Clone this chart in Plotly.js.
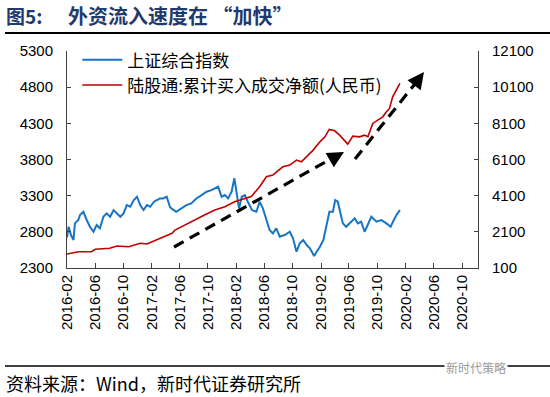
<!DOCTYPE html>
<html>
<head>
<meta charset="utf-8">
<script src="https://cdn.plot.ly/plotly-3.0.1.min.js"></script>
<style>
html,body{margin:0;padding:0;background:#fff;}
#chart{width:550px;height:397px;}
</style>
</head>
<body>
<div id="chart"></div>
<script>
// ---- Data ----
const sseDates = ['2016-02-01','2016-02-08','2016-02-18','2016-02-29','2016-03-06','2016-03-21','2016-03-28','2016-04-12','2016-04-26','2016-05-10','2016-05-25','2016-06-08','2016-06-22','2016-07-07','2016-07-21','2016-08-05','2016-08-20','2016-09-04','2016-09-18','2016-10-02','2016-10-16','2016-10-31','2016-11-15','2016-11-29','2016-12-13','2016-12-27','2017-01-11','2017-01-25','2017-02-10','2017-02-23','2017-03-08','2017-03-22','2017-04-06','2017-04-20','2017-04-26','2017-05-17','2017-06-08','2017-06-30','2017-07-21','2017-08-12','2017-09-04','2017-09-25','2017-10-16','2017-10-31','2017-11-14','2017-11-29','2017-12-13','2017-12-27','2018-01-11','2018-01-23','2018-02-02','2018-02-12','2018-02-24','2018-03-09','2018-03-22','2018-04-09','2018-04-28','2018-05-12','2018-05-26','2018-06-10','2018-06-24','2018-07-08','2018-07-23','2018-08-07','2018-08-28','2018-09-19','2018-10-03','2018-10-18','2018-11-01','2018-11-16','2018-12-01','2018-12-15','2019-01-02','2019-01-13','2019-01-27','2019-02-11','2019-02-25','2019-03-09','2019-03-24','2019-04-03','2019-04-14','2019-04-25','2019-05-06','2019-05-20','2019-06-04','2019-06-26','2019-07-10','2019-07-24','2019-08-08','2019-08-22','2019-09-06','2019-09-28','2019-10-19','2019-11-10','2019-11-28','2019-12-12','2019-12-23','2020-01-07'];
const sseValues = [2720,2870,2756,2687,2917,2963,3032,3077,2963,2870,2801,2894,2848,3008,3055,3008,3101,3055,3008,3055,3170,3147,3239,3285,3170,3101,3170,3147,3216,3239,3262,3262,3285,3147,3124,3077,3124,3170,3193,3262,3308,3354,3377,3400,3423,3285,3308,3262,3354,3540,3331,3124,3285,3308,3216,3101,3077,3216,3124,2963,2825,2779,2848,2732,2756,2801,2710,2525,2641,2687,2618,2572,2466,2525,2594,2687,2917,3077,3077,3239,3216,3055,2917,2870,2917,2986,2917,2940,2801,2894,3008,2940,2963,2917,2870,2963,3032,3101];

const hsgtDates = ['2016-02-01','2016-03-21','2016-05-17','2016-06-02','2016-08-03','2016-09-04','2016-10-24','2016-11-15','2016-12-13','2017-01-11','2017-02-03','2017-03-03','2017-03-31','2017-04-29','2017-05-12','2017-06-22','2017-08-04','2017-09-16','2017-10-31','2017-12-13','2018-01-24','2018-03-09','2018-04-06','2018-05-12','2018-06-10','2018-07-08','2018-08-20','2018-09-19','2018-10-18','2018-11-08','2018-12-01','2018-12-29','2019-01-27','2019-02-18','2019-03-08','2019-04-01','2019-04-22','2019-05-13','2019-05-27','2019-06-18','2019-07-17','2019-08-08','2019-08-22','2019-09-12','2019-10-03','2019-10-25','2019-11-10','2019-11-23','2019-12-07','2019-12-23','2020-01-07'];
const hsgtValues = [873,1000,1000,1133,1188,1315,1277,1371,1465,1426,1553,1741,1880,2017,2200,2476,2752,3028,3305,3487,3763,3951,4050,4594,5146,5238,5697,5791,6067,5973,6249,6620,7078,7354,7763,7686,7448,7172,6951,7393,7354,7448,7354,8095,8277,8459,8736,8923,9564,9934,10304];

const tickDates = ['2016-02-01','2016-06-01','2016-10-01','2017-02-01','2017-06-01','2017-10-01','2018-02-01','2018-06-01','2018-10-01','2019-02-01','2019-06-01','2019-10-01','2020-02-01','2020-06-01','2020-10-01'];
const tickLabels = ['2016-02','2016-06','2016-10','2017-02','2017-06','2017-10','2018-02','2018-06','2018-10','2019-02','2019-06','2019-10','2020-02','2020-06','2020-10'];

const seriesNames = ['上证综合指数','陆股通:累计买入成交净额(人民币)'];
const titleLead = '图5:';
const titleText = '外资流入速度在 “加快”';
const sourceText = '资料来源：Wind，新时代证券研究所';
const watermarkText = '新时代策略';

// ---- Chart ----
const tickFont = {family:'Arial, "Liberation Sans", sans-serif', size:15, color:'#000'};
const cjk = '"Noto Sans CJK SC", "Noto Sans", sans-serif';
const axisColor = '#404040';

const traces = [
  {x:sseDates, y:sseValues, name:seriesNames[0], type:'scatter', mode:'lines',
   line:{color:'#1874C4', width:2}, yaxis:'y'},
  {x:hsgtDates, y:hsgtValues, name:seriesNames[1], type:'scatter', mode:'lines',
   line:{color:'#C00000', width:1.6}, yaxis:'y2'}
];

const px = (v)=> (v-67)/411;       // pixel x -> paper
const py = (v)=> (268-v)/217;      // pixel y -> paper

const layout = {
  width:550, height:397,
  margin:{l:67, r:72, t:51, b:129},
  paper_bgcolor:'#fff', plot_bgcolor:'#fff',
  showlegend:true,
  legend:{x:0.025, y:1.04, xanchor:'left', yanchor:'top', bgcolor:'rgba(0,0,0,0)',
          font:{family:cjk, size:17, color:'#000'}, tracegroupgap:0, itemwidth:40},
  xaxis:{type:'date', range:['2016-02-01','2020-12-09'], tickvals:tickDates, ticktext:tickLabels,
         tickangle:-90, tickfont:tickFont, ticks:'inside', ticklen:5, tickcolor:axisColor,
         showline:true, linecolor:axisColor, linewidth:1, showgrid:false, zeroline:false},
  yaxis:{range:[2300,5300], dtick:500, tick0:2300, tickformat:'d', tickfont:tickFont, ticks:'inside', ticklen:4,
         tickcolor:axisColor, showline:true, linecolor:axisColor, linewidth:1, showgrid:false,
         zeroline:false, ticklabelstandoff:10},
  yaxis2:{range:[100,12100], dtick:2000, tick0:100, tickformat:'d', overlaying:'y', side:'right', tickfont:tickFont,
          ticks:'inside', ticklen:4, tickcolor:axisColor, showline:true, linecolor:axisColor,
          linewidth:1, showgrid:false, zeroline:false, ticklabelstandoff:10},
  shapes:[
    {type:'line', xref:'paper', yref:'paper', x0:px(5), x1:px(550), y0:py(33), y1:py(33), line:{color:'#000', width:2}},
    {type:'line', xref:'paper', yref:'paper', x0:px(5), x1:px(550), y0:py(366), y1:py(366), line:{color:'#000', width:1.5}},
    {type:'line', xref:'paper', yref:'paper', x0:px(174), y0:py(247), x1:px(336), y1:py(156), line:{color:'#000', width:3.2, dash:'11px,7px'}},
    {type:'line', xref:'paper', yref:'paper', x0:px(355), y0:py(159), x1:px(418), y1:py(80), line:{color:'#000', width:3.2, dash:'11px,7px'}}
  ],
  annotations:[
    {xref:'paper', yref:'paper', x:px(344), y:py(152), ax:-14, ay:8, showarrow:true, text:'', arrowhead:2, arrowsize:1.1, arrowwidth:3, arrowcolor:'#000'},
    {xref:'paper', yref:'paper', x:px(424), y:py(72), ax:-9, ay:12, showarrow:true, text:'', arrowhead:2, arrowsize:1.1, arrowwidth:3, arrowcolor:'#000'},
    {xref:'paper', yref:'paper', x:px(4), y:py(16), xanchor:'left', yanchor:'middle', showarrow:false,
     text:'<b>'+titleLead+'</b>', font:{family:cjk, size:19, color:'#1F3A6E'}},
    {xref:'paper', yref:'paper', x:px(66), y:py(16), xanchor:'left', yanchor:'middle', showarrow:false,
     text:'<b>'+titleText+'</b>', font:{family:cjk, size:20, color:'#1F3A6E'}},
    {xref:'paper', yref:'paper', x:px(4), y:py(383), xanchor:'left', yanchor:'middle', showarrow:false,
     text:sourceText, font:{family:cjk, size:18, color:'#000'}},
    {xref:'paper', yref:'paper', x:px(508), y:py(367), xanchor:'right', yanchor:'middle', showarrow:false,
     text:watermarkText, bgcolor:'#fff', font:{family:cjk, size:12, color:'#9a9a9a'}}
  ]
};

Plotly.newPlot('chart', traces, layout, {displayModeBar:false, staticPlot:true});
</script>
</body>
</html>
